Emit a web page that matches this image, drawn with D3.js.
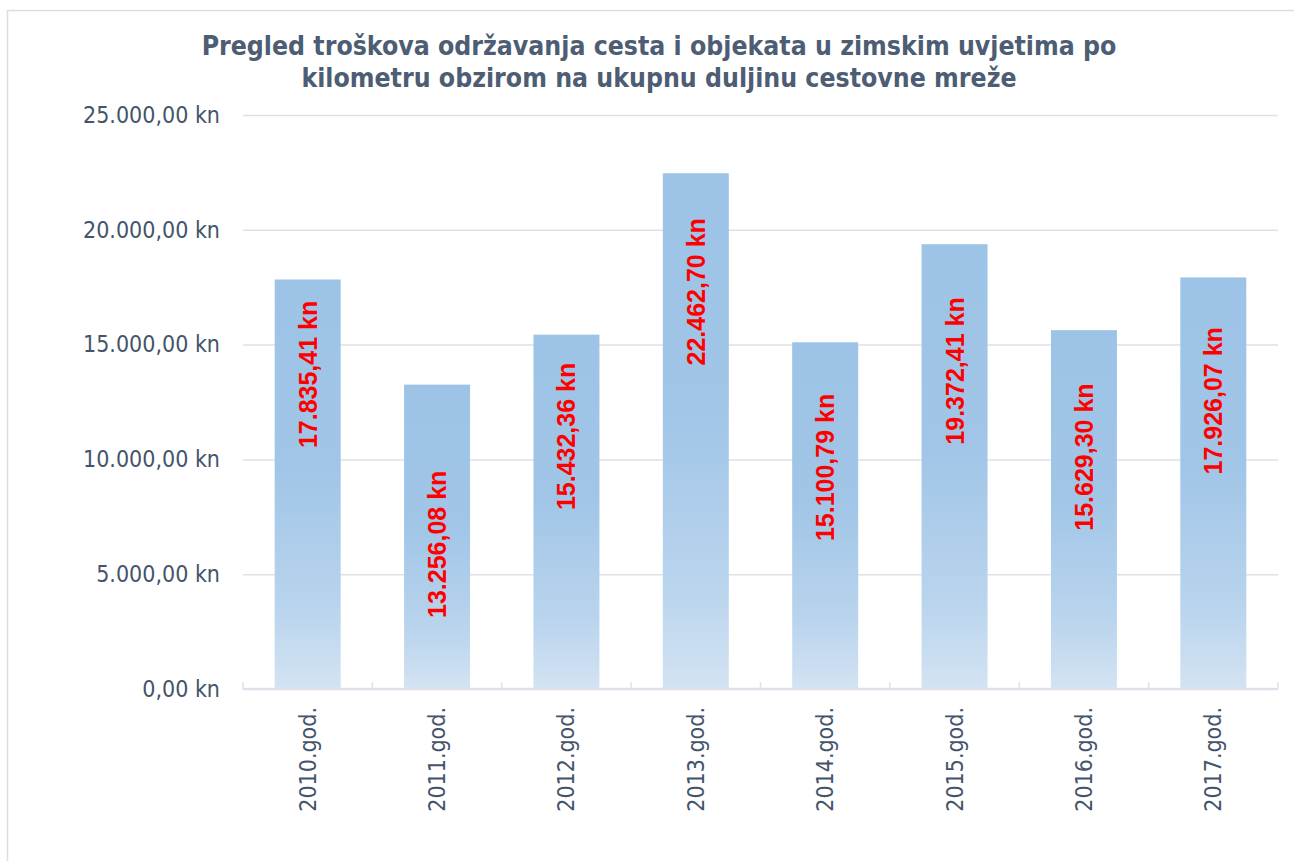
<!DOCTYPE html>
<html>
<head>
<meta charset="utf-8">
<script src="https://cdn.jsdelivr.net/npm/d3@7"></script>
<style>
  html, body { margin: 0; padding: 0; background: #fff; }
  svg { display: block; }
</style>
</head>
<body>
<svg id="chart" width="1294" height="861"></svg>
<script>
const titleLines = [
  "Pregled troškova održavanja cesta i objekata u zimskim uvjetima po",
  "kilometru obzirom na ukupnu duljinu cestovne mreže"
];
const categories = ["2010.god.", "2011.god.", "2012.god.", "2013.god.", "2014.god.", "2015.god.", "2016.god.", "2017.god."];
const values = [17835.41, 13256.08, 15432.36, 22462.70, 15100.79, 19372.41, 15629.30, 17926.07];
// where each (hand-placed) value label is centred, in data units
const labelAnchors = [13700, 6300, 11000, 17300, 9650, 13850, 10100, 12550];
const yTicks = [0, 5000, 10000, 15000, 20000, 25000];

const hr = d3.formatLocale({ decimal: ",", thousands: ".", grouping: [3], currency: ["", ""] });
const fmt = v => hr.format(",.2f")(v) + " kn";

const svg = d3.select("#chart");
const textColor = "#44546a";
const gridColor = "#dde2ea";
const axisFont = "'DejaVu Sans Condensed', 'DejaVu Sans', sans-serif";

// outer chart border
svg.append("rect")
  .attr("x", 7.5).attr("y", 10.5)
  .attr("width", 1300).attr("height", 870)
  .attr("fill", "none").attr("stroke", "#d9dde6").attr("stroke-width", 1.5);

const plot = { left: 243, right: 1278, top: 115, bottom: 689 };

const x = d3.scaleBand().domain(categories)
  .range([plot.left, plot.right]).paddingInner(0.49).paddingOuter(0.245);
const y = d3.scaleLinear().domain([0, 25000]).range([plot.bottom, plot.top]);

// gradient
const defs = svg.append("defs");
const grad = defs.append("linearGradient").attr("id", "barGrad")
  .attr("x1", 0).attr("y1", 0).attr("x2", 0).attr("y2", 1);
grad.append("stop").attr("offset", "0").attr("stop-color", "#9dc3e6");
grad.append("stop").attr("offset", "0.45").attr("stop-color", "#a0c5e7");
grad.append("stop").attr("offset", "0.8").attr("stop-color", "#b9d4ed");
grad.append("stop").attr("offset", "1").attr("stop-color", "#d3e3f3");

// title
svg.append("g").selectAll("text").data(titleLines).join("text")
  .attr("x", 659).attr("y", (d, i) => 55 + i * 32)
  .attr("text-anchor", "middle")
  .attr("font-family", axisFont)
  .attr("font-weight", "bold").attr("font-size", 26.4)
  .attr("fill", "#4d5d74")
  .text(d => d);

// y grid + labels via axis
const yAxis = d3.axisLeft(y).tickValues(yTicks)
  .tickSize(-(plot.right - plot.left)).tickPadding(23).tickFormat(fmt);
const yg = svg.append("g").attr("transform", `translate(${plot.left},0)`).call(yAxis);
yg.select(".domain").remove();
yg.selectAll(".tick line").attr("stroke", gridColor).attr("stroke-width", 1.5)
  .filter(d => d === 0).remove();
yg.selectAll(".tick text")
  .attr("fill", textColor)
  .attr("font-family", axisFont)
  .attr("font-size", 23);

// bars
svg.append("g").selectAll("rect").data(values).join("rect")
  .attr("x", (d, i) => x(categories[i]))
  .attr("width", x.bandwidth())
  .attr("y", d => y(d))
  .attr("height", d => y(0) - y(d))
  .attr("fill", "url(#barGrad)");

// x axis line + inside ticks
const step = x.step();
const boundaries = categories.map(c => x(c) - x.paddingOuter() * step).concat([plot.right]);
svg.append("g").selectAll("line").data(boundaries).join("line")
  .attr("x1", d => d).attr("x2", d => d)
  .attr("y1", y(0) - 7).attr("y2", y(0))
  .attr("stroke", gridColor).attr("stroke-width", 1.5);
svg.append("line")
  .attr("x1", plot.left).attr("x2", plot.right)
  .attr("y1", y(0)).attr("y2", y(0))
  .attr("stroke", gridColor).attr("stroke-width", 2.5);

// x labels, rotated
svg.append("g").selectAll("text").data(categories).join("text")
  .attr("transform", d => `translate(${x(d) + x.bandwidth() / 2 + 8},${y(0) + 18}) rotate(-90)`)
  .attr("text-anchor", "end")
  .attr("font-family", axisFont)
  .attr("font-size", 23)
  .attr("fill", textColor)
  .text(d => d);

// value labels
svg.append("g").selectAll("text").data(values).join("text")
  .attr("transform", (d, i) => `translate(${x(categories[i]) + x.bandwidth() / 2 + 9},${y(labelAnchors[i])}) rotate(-90)`)
  .attr("text-anchor", "middle")
  .attr("font-family", "'Liberation Sans', Arial, sans-serif")
  .attr("font-weight", "bold").attr("font-size", 25)
  .attr("fill", "#ff0000")
  .text(d => fmt(d));
</script>
</body>
</html>
